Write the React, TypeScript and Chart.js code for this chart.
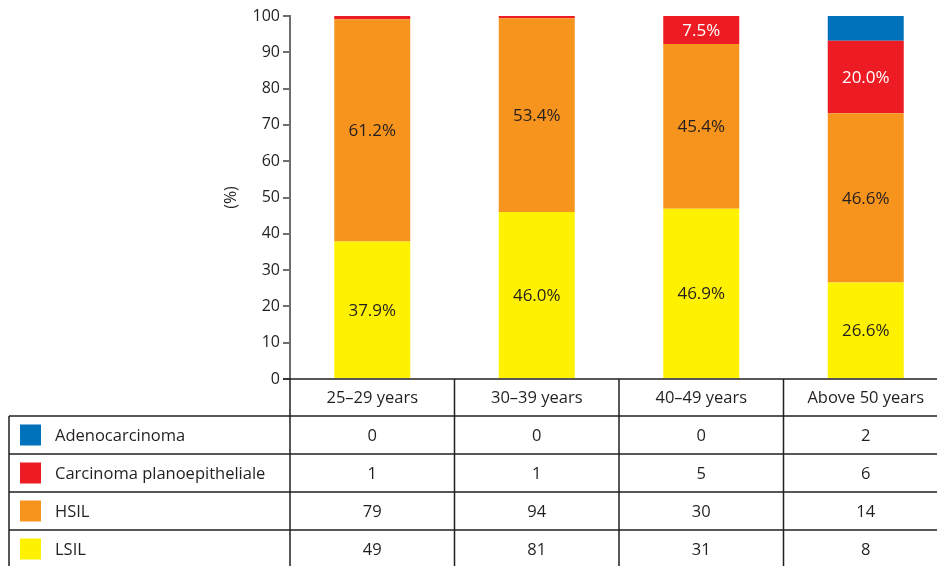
import React, { useEffect, useRef } from "react";
import { Chart, registerables } from "chart.js";

Chart.register(...registerables);

const categories = ["25–29 years", "30–39 years", "40–49 years", "Above 50 years"];
const seriesNames = ["Adenocarcinoma", "Carcinoma planoepitheliale", "HSIL", "LSIL"];
const seriesColors = ["#0072BC", "#ED1C24", "#F7941D", "#FFF200"];

// Percentages (bar heights)
const lsilPct = [37.9, 46.0, 46.9, 26.6];
const hsilPct = [61.2, 53.4, 45.4, 46.6];
const carcPct = [0.9, 0.6, 7.7, 20.0];
const adenoPct = [0, 0, 0, 6.8];

// Labels printed inside the bars
const lsilLabels = ["37.9%", "46.0%", "46.9%", "26.6%"];
const hsilLabels = ["61.2%", "53.4%", "45.4%", "46.6%"];
const carcLabels = [null, null, "7.5%", "20.0%"];
const adenoLabels = [null, null, null, null];

// Counts in the data table
const adenoCounts = [0, 0, 0, 2];
const carcCounts = [1, 1, 5, 6];
const hsilCounts = [79, 94, 30, 14];
const lsilCounts = [49, 81, 31, 8];

const yTickStep = 10;

const FONT = "'Open Sans', sans-serif";
const TEXT = "#231F20";

export default function App() {
  const ref = useRef<HTMLCanvasElement | null>(null);

  useEffect(() => {
    document.body.style.margin = "0";
    const canvas = ref.current!;
    const tableRows = [
      { name: seriesNames[0], color: seriesColors[0], counts: adenoCounts },
      { name: seriesNames[1], color: seriesColors[1], counts: carcCounts },
      { name: seriesNames[2], color: seriesColors[2], counts: hsilCounts },
      { name: seriesNames[3], color: seriesColors[3], counts: lsilCounts },
    ];
    const labelSets = [lsilLabels, hsilLabels, carcLabels, adenoLabels];
    const labelColors = [TEXT, TEXT, "#FFFFFF", "#FFFFFF"];

    const tablePlugin = {
      id: "tablePlugin",
      afterDatasetsDraw(chart: any) {
        const ctx = chart.ctx as CanvasRenderingContext2D;
        ctx.save();
        ctx.font = `17px ${FONT}`;
        ctx.textAlign = "center";
        ctx.textBaseline = "middle";
        chart.data.datasets.forEach((ds: any, di: number) => {
          const meta = chart.getDatasetMeta(di);
          meta.data.forEach((el: any, i: number) => {
            const lab = labelSets[di][i];
            if (!lab) return;
            ctx.fillStyle = labelColors[di];
            ctx.fillText(lab, el.x, (el.y + el.base) / 2 + 1);
          });
        });
        ctx.restore();
      },
      afterDraw(chart: any) {
        const ctx = chart.ctx as CanvasRenderingContext2D;
        const area = chart.chartArea;
        const xs = chart.scales.x;
        const catW = xs.width / categories.length;
        const top = area.bottom;
        const headerH = 37;
        const rowH = 38;
        const tableLeft = 9;
        const right = chart.width;
        ctx.save();
        ctx.strokeStyle = TEXT;
        ctx.lineWidth = 1.5;
        ctx.beginPath();
        ctx.moveTo(area.left - 7, top);
        ctx.lineTo(right, top);
        for (let r = 0; r < 4; r++) {
          const y = top + headerH + r * rowH;
          ctx.moveTo(tableLeft, y);
          ctx.lineTo(right, y);
        }
        for (let i = 0; i < categories.length; i++) {
          const x = xs.getPixelForValue(i) - catW / 2;
          ctx.moveTo(x, top);
          ctx.lineTo(x, chart.height);
        }
        ctx.moveTo(tableLeft, top + headerH);
        ctx.lineTo(tableLeft, chart.height);
        ctx.stroke();

        ctx.fillStyle = TEXT;
        ctx.font = `16.5px ${FONT}`;
        ctx.textBaseline = "middle";
        ctx.textAlign = "center";
        categories.forEach((c, i) => {
          ctx.fillText(c, xs.getPixelForValue(i), top + headerH / 2 + 1);
        });
        tableRows.forEach((row, r) => {
          const yc = top + headerH + r * rowH + rowH / 2;
          ctx.fillStyle = row.color;
          ctx.fillRect(20, yc - 10.5, 21, 21);
          ctx.fillStyle = TEXT;
          ctx.textAlign = "left";
          ctx.fillText(row.name, 55, yc + 1);
          ctx.textAlign = "center";
          row.counts.forEach((v, i) => {
            ctx.fillText(String(v), xs.getPixelForValue(i), yc + 1);
          });
        });
        ctx.restore();
      },
    };

    const chart = new Chart(canvas, {
      type: "bar",
      data: {
        labels: categories,
        datasets: [
          { label: seriesNames[3], data: lsilPct, backgroundColor: seriesColors[3] },
          { label: seriesNames[2], data: hsilPct, backgroundColor: seriesColors[2] },
          { label: seriesNames[1], data: carcPct, backgroundColor: seriesColors[1] },
          { label: seriesNames[0], data: adenoPct, backgroundColor: seriesColors[0] },
        ],
      },
      options: {
        responsive: false,
        animation: false,
        layout: { padding: { left: 218, top: 16, right: 0, bottom: 187 } },
        datasets: { bar: { categoryPercentage: 1, barPercentage: 0.462 } },
        plugins: { legend: { display: false }, tooltip: { enabled: false } },
        scales: {
          x: {
            stacked: true,
            display: false,
          },
          y: {
            stacked: true,
            min: 0,
            max: 100,
            afterFit: (scale: any) => {
              scale.width = 72;
            },
            ticks: {
              stepSize: yTickStep,
              color: TEXT,
              font: { family: FONT, size: 16 },
              padding: 3,
            },
            grid: {
              drawOnChartArea: false,
              tickLength: 7,
              color: "#6D6E71",
              lineWidth: 2,
            },
            border: { color: "#6D6E71", width: 2 },
            title: {
              display: true,
              text: "(%)",
              color: TEXT,
              font: { family: FONT, size: 16 },
            },
          },
        },
      },
      plugins: [tablePlugin],
    });
    return () => chart.destroy();
  }, []);

  return (
    <div style={{ width: 937, height: 566, overflow: "hidden", position: "relative" }}>
      <canvas ref={ref} width={948} height={566} style={{ display: "block" }} />
    </div>
  );
}
